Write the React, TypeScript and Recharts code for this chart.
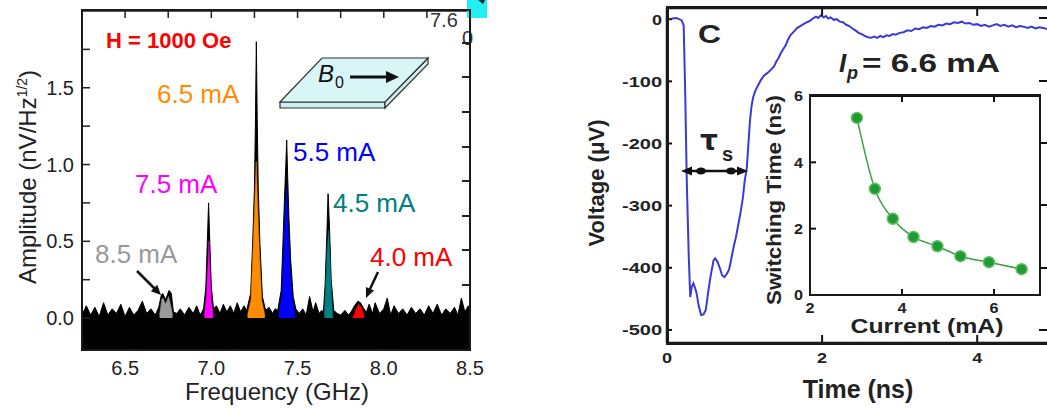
import React from 'react';
import { ComposedChart, Area, Line, XAxis, YAxis } from 'recharts';

const FONT = '"Liberation Sans", Arial, Helvetica, sans-serif';

// ---------------- Panel 1: spectrum ----------------
const freqLabelTicks = [6.5, 7.0, 7.5, 8.0, 8.5];
const freqMinorTicks = [6.25, 6.5, 6.75, 7.0, 7.25, 7.5, 7.75, 8.0, 8.25, 8.5];
const ampTicks = [0, 0.25, 0.5, 0.75, 1.0, 1.25, 1.5, 1.75];
const ampLabelTicks = [0, 0.5, 1.0, 1.5];
const sideScaleTicks = [0, 1, 2, 3, 4, 5, 6, 7];

const blackFreq = [
  6.25, 6.275, 6.3, 6.325, 6.35, 6.375, 6.4, 6.425, 6.45, 6.475, 6.5, 6.525, 6.55, 6.575, 6.6, 6.625,
  6.65, 6.675, 6.695, 6.71, 6.718, 6.735, 6.755, 6.768, 6.78, 6.8, 6.82, 6.845, 6.87, 6.895, 6.915,
  6.935, 6.955, 6.968, 6.977, 6.984, 6.991, 7.0, 7.013, 7.03, 7.05, 7.07, 7.09, 7.11, 7.13, 7.15,
  7.17, 7.19, 7.205, 7.228, 7.24, 7.25, 7.256, 7.261, 7.266, 7.272, 7.282, 7.296, 7.315, 7.335,
  7.355, 7.37, 7.385, 7.405, 7.415, 7.425, 7.432, 7.437, 7.442, 7.45, 7.46, 7.475, 7.49, 7.51,
  7.53, 7.55, 7.57, 7.59, 7.605, 7.625, 7.64, 7.65, 7.66, 7.67, 7.677, 7.685, 7.695, 7.71, 7.73,
  7.75, 7.775, 7.795, 7.81, 7.83, 7.85, 7.865, 7.885, 7.9, 7.915, 7.935, 7.95, 7.975, 8.0, 8.02,
  8.04, 8.06, 8.085, 8.11, 8.135, 8.16, 8.185, 8.21, 8.235, 8.26, 8.285, 8.31, 8.335, 8.36, 8.385,
  8.41, 8.43, 8.45, 8.47, 8.49, 8.5,
];
const blackAmp = [
  0.02, 0.08, 0.02, 0.07, 0.01, 0.1, 0.02, 0.06, 0.03, 0.09, 0.01, 0.07, 0.02, 0.05, 0.11, 0.03,
  0.06, 0.02, 0.07, 0.15, 0.16, 0.12, 0.18, 0.16, 0.04, 0.03, 0.06, 0.02, 0.07, 0.03, 0.08,
  0.02, 0.06, 0.2, 0.5, 0.75, 0.5, 0.2, 0.06, 0.08, 0.03, 0.09, 0.04, 0.08, 0.03, 0.1,
  0.04, 0.08, 0.05, 0.16, 0.5, 0.85, 1.3, 1.8, 1.3, 0.85, 0.48, 0.14, 0.05, 0.07,
  0.03, 0.06, 0.05, 0.18, 0.48, 0.8, 1.0, 1.16, 0.95, 0.65, 0.38, 0.14, 0.06, 0.03,
  0.06, 0.02, 0.14, 0.04, 0.1, 0.03, 0.05, 0.04, 0.22, 0.55, 0.81, 0.6, 0.25, 0.05, 0.03,
  0.02, 0.05, 0.02, 0.04, 0.08, 0.11, 0.1, 0.06, 0.04, 0.09, 0.03, 0.1, 0.03, 0.06, 0.13,
  0.02, 0.08, 0.03, 0.06, 0.02, 0.07, 0.03, 0.06, 0.02, 0.08, 0.03, 0.09, 0.02, 0.06, 0.03,
  0.07, 0.02, 0.13, 0.04, 0.08, 0.05,
];
const greyFreq = [6.7, 6.712, 6.72, 6.735, 6.752, 6.765, 6.775];
const greyAmp = [0.02, 0.12, 0.13, 0.09, 0.14, 0.08, 0.02];
const magentaFreq = [6.96, 6.972, 6.98, 6.986, 6.992, 7.0, 7.01];
const magentaAmp = [0.02, 0.15, 0.35, 0.5, 0.3, 0.12, 0.02];
const orangeFreq = [7.21, 7.23, 7.242, 7.252, 7.26, 7.268, 7.278, 7.292, 7.31];
const orangeAmp = [0.02, 0.12, 0.45, 0.75, 1.02, 0.75, 0.45, 0.12, 0.02];
const blueFreq = [7.39, 7.41, 7.42, 7.43, 7.437, 7.445, 7.455, 7.47, 7.485];
const blueAmp = [0.02, 0.15, 0.45, 0.72, 0.85, 0.6, 0.35, 0.12, 0.03];
const tealFreq = [7.655, 7.663, 7.672, 7.68, 7.688, 7.697, 7.705];
const tealAmp = [0.02, 0.2, 0.45, 0.57, 0.4, 0.15, -0.01];
const redFreq = [7.82, 7.84, 7.855, 7.87, 7.885];
const redAmp = [0.0, 0.06, 0.09, 0.07, 0.02];

const spectrumSeries = [
  { key: 'black', f: blackFreq, a: blackAmp, color: '#000000' },
  { key: 'grey', f: greyFreq, a: greyAmp, color: '#9a9a9a' },
  { key: 'magenta', f: magentaFreq, a: magentaAmp, color: '#ff00ff' },
  { key: 'orange', f: orangeFreq, a: orangeAmp, color: '#ff8c00' },
  { key: 'blue', f: blueFreq, a: blueAmp, color: '#0000ff' },
  { key: 'teal', f: tealFreq, a: tealAmp, color: '#008080' },
  { key: 'red', f: redFreq, a: redAmp, color: '#ff0000' },
];
const allFreq = Array.from(new Set(spectrumSeries.flatMap((s) => s.f))).sort((a, b) => a - b);
const spectrumData = allFreq.map((f) => {
  const row: Record<string, number | null> = { f };
  spectrumSeries.forEach((s) => {
    const i = s.f.indexOf(f);
    row[s.key] = i >= 0 ? s.a[i] : null;
  });
  return row;
});

const AMP_MIN = -0.208;
const AMP_MAX = 2.0;
const SIDE_MIN = -1.88;
const SIDE_MAX = 7.95;

// ---------------- Panel 2: pulse ----------------
const timeTicks = [0, 2, 4];
const timeTopTicks = [2, 4];
const voltTicks = [0, -100, -200, -300, -400, -500];
const timeNs = [
  0.06, 0.12, 0.19, 0.215, 0.235, 0.255, 0.28, 0.3, 0.32, 0.34, 0.36, 0.38, 0.41, 0.44, 0.47, 0.5,
  0.53, 0.56, 0.6, 0.62, 0.65, 0.68, 0.71, 0.74, 0.77, 0.8, 0.83, 0.86, 0.89, 0.92, 0.95, 0.98,
  1.0, 1.03, 1.05, 1.07, 1.09, 1.11, 1.14, 1.18, 1.21, 1.25, 1.28, 1.31, 1.35, 1.38, 1.41, 1.44,
  1.47, 1.5, 1.53, 1.56, 1.59, 1.62, 1.65, 1.68, 1.72, 1.76, 1.8, 1.84, 1.88, 1.92, 1.95, 1.98,
  2.02, 2.05, 2.08, 2.11, 2.15, 2.19, 2.23, 2.27, 2.31, 2.35, 2.39, 2.43, 2.47, 2.51, 2.55, 2.59,
  2.63, 2.67, 2.71, 2.75, 2.79, 2.83, 2.87, 2.91, 2.95, 3.0, 3.05, 3.1, 3.15, 3.2, 3.25, 3.3,
  3.35, 3.4, 3.45, 3.5, 3.55, 3.6, 3.65, 3.7, 3.75, 3.8, 3.85, 3.9, 3.95, 4.0, 4.05, 4.1, 4.15,
  4.2, 4.25, 4.3, 4.35, 4.4, 4.45, 4.5, 4.55, 4.6, 4.65, 4.7, 4.75, 4.8, 4.85, 4.9,
];
const voltageUv = [
  1, 2, -2, -10, -120, -260, -380, -447, -430, -425, -432, -440, -462, -476, -475, -468,
  -440, -415, -388, -385, -390, -400, -412, -415, -410, -403, -385, -366, -350, -330, -310, -286,
  -262, -238, -200, -163, -140, -126, -115, -105, -98, -91, -88, -85, -80, -76, -68, -62,
  -54, -48, -42, -33, -26, -22, -18, -14, -11, -8, -5, -3, 1, 4, 2, 6,
  3, 5, 1, 3, -1, 0, -4, -5, -9, -11, -15, -18, -22, -24, -27, -29,
  -30, -28, -30, -27, -29, -26, -27, -24, -25, -22, -21, -18, -19, -15, -16, -13,
  -14, -11, -12, -9, -10, -7, -8, -5, -6, -4, -7, -6, -9, -8, -11, -9, -12,
  -10, -8, -11, -9, -12, -10, -13, -11, -12, -14, -12, -15, -13, -14, -16,
];
const pulseData = timeNs.map((t, i) => ({ t, v: voltageUv[i] }));
const VOLT_MIN = -521;
const VOLT_MAX = 18;

// ---------------- Inset: switching time ----------------
const currentTicks = [2, 4, 6];
const currentTopTicks = [4, 6];
const switchTicks = [0, 2, 4, 6];
const currentMa = [3.02, 3.41, 3.8, 4.25, 4.77, 5.27, 5.89, 6.6];
const switchNs = [5.34, 3.2, 2.3, 1.75, 1.47, 1.17, 0.99, 0.78];
const switchData = currentMa.map((c, i) => ({ c, s: switchNs[i] }));

// ---------------- tick helper ----------------
function makeTick(
  side: string,
  len: number,
  color: string,
  sw: number,
  label?: (v: number) => string | null,
  gap = 8,
  size = 20,
  bold = false,
  perChar = 0
) {
  return (p: any) => {
    const x = Number(p.x);
    const y = Number(p.y);
    const v = p.payload ? p.payload.value : 0;
    const lbl = label ? label(v) : null;
    let x2 = x;
    let y2 = y;
    if (side === 'left') x2 = x + len;
    if (side === 'top') y2 = y + len;
    if (side === 'bottom') y2 = y - len;
    const stretch: any = perChar && lbl ? { textLength: lbl.length * perChar, lengthAdjust: 'spacingAndGlyphs' } : {};
    return (
      <g>
        {len > 0 && <path d={`M${x},${y}L${x2},${y2}`} stroke={color} strokeWidth={sw} />}
        {lbl && (
          <text
            x={side === 'left' ? x - gap : x}
            y={side === 'left' ? y + size * 0.36 : y + gap}
            textAnchor={side === 'left' ? 'end' : 'middle'}
            fontFamily={FONT}
            fontSize={size}
            fontWeight={bold ? 'bold' : 'normal'}
            fill="#222"
            {...stretch}
          >
            {lbl}
          </text>
        )}
      </g>
    );
  };
}

function SpectrumPanel() {
  return (
    <ComposedChart width={490} height={410} data={spectrumData} margin={{ top: 10, right: 20, bottom: 0, left: 0 }}>
      <XAxis
        xAxisId="b"
        dataKey="f"
        type="number"
        domain={[6.25, 8.5]}
        ticks={freqLabelTicks}
        interval={0}
        height={60}
        tickSize={0}
        tickMargin={0}
        stroke="#222"
        strokeWidth={1.5}
        tick={makeTick('bottom', 0, '#222', 1.5, (v) => v.toFixed(1), 25, 20)}
      />
      <XAxis
        xAxisId="t"
        dataKey="f"
        orientation="top"
        type="number"
        domain={[6.25, 8.5]}
        ticks={freqMinorTicks}
        interval={0}
        height={1}
        tickSize={0}
        tickMargin={0}
        stroke="#222"
        strokeWidth={1.5}
        tick={makeTick('top', 7, '#222', 1.5)}
      />
      <YAxis
        yAxisId="l"
        type="number"
        domain={[AMP_MIN, AMP_MAX]}
        ticks={ampTicks}
        interval={0}
        width={82}
        tickSize={0}
        tickMargin={0}
        stroke="#222"
        strokeWidth={1.5}
        tick={makeTick('left', 8, '#222', 1.5, (v) => (ampLabelTicks.includes(v) ? v.toFixed(1) : null), 8, 20)}
      />
      {spectrumSeries.map((s, i) => (
        <Area
          key={s.key}
          xAxisId="b"
          yAxisId="l"
          dataKey={s.key}
          type="linear"
          connectNulls
          baseValue={i === 0 ? AMP_MIN : 0}
          fill={s.color}
          fillOpacity={1}
          stroke={s.color}
          strokeWidth={i === 0 ? 1 : 0.5}
          dot={false}
          activeDot={false}
          isAnimationActive={false}
        />
      ))}
    </ComposedChart>
  );
}

function PulsePanel() {
  return (
    <ComposedChart width={467} height={410} data={pulseData} margin={{ top: 7, right: 0, bottom: 0, left: 0 }}>
      <XAxis
        xAxisId="b"
        dataKey="t"
        type="number"
        domain={[0, 4.9]}
        ticks={timeTicks}
        interval={0}
        height={67}
        tickSize={0}
        tickMargin={0}
        stroke="#111"
        strokeWidth={2.5}
        tick={makeTick('bottom', 8, '#111', 2, (v) => String(v), 20, 15, true, 10)}
      />
      <XAxis
        xAxisId="t"
        dataKey="t"
        orientation="top"
        type="number"
        domain={[0, 4.9]}
        ticks={timeTopTicks}
        interval={0}
        height={1}
        tickSize={0}
        tickMargin={0}
        stroke="#111"
        strokeWidth={2.5}
        tick={makeTick('top', 8, '#111', 2)}
      />
      <YAxis
        yAxisId="l"
        type="number"
        domain={[VOLT_MIN, VOLT_MAX]}
        ticks={voltTicks}
        interval={0}
        width={87}
        tickSize={0}
        tickMargin={0}
        stroke="#111"
        strokeWidth={2.5}
        tick={makeTick('left', 5, '#111', 2, (v) => String(v), 5, 15, true, 10)}
      />
      <Line
        xAxisId="b"
        yAxisId="l"
        dataKey="v"
        type="linear"
        stroke="#3a3ad8"
        strokeWidth={2}
        dot={false}
        activeDot={false}
        isAnimationActive={false}
      />
    </ComposedChart>
  );
}

function InsetPanel() {
  return (
    <ComposedChart width={307} height={260} data={switchData} margin={{ top: 15, right: 7, bottom: 0, left: 0 }}>
      <XAxis
        xAxisId="b"
        dataKey="c"
        type="number"
        domain={[2, 7]}
        ticks={currentTicks}
        interval={0}
        height={45}
        tickSize={0}
        tickMargin={0}
        stroke="#111"
        strokeWidth={2}
        tick={makeTick('bottom', 6, '#111', 2, (v) => String(v), 18, 15, true, 9)}
      />
      <XAxis
        xAxisId="t"
        dataKey="c"
        orientation="top"
        type="number"
        domain={[2, 7]}
        ticks={currentTopTicks}
        interval={0}
        height={1}
        tickSize={0}
        tickMargin={0}
        stroke="#111"
        strokeWidth={2}
        tick={makeTick('top', 6, '#111', 2)}
      />
      <YAxis
        yAxisId="l"
        type="number"
        domain={[0, 6]}
        ticks={switchTicks}
        interval={0}
        width={70}
        tickSize={0}
        tickMargin={0}
        stroke="#111"
        strokeWidth={2}
        tick={makeTick('left', 6, '#111', 2, (v) => String(v), 7, 15, true, 9)}
      />
      <Line
        xAxisId="b"
        yAxisId="l"
        dataKey="s"
        type="monotone"
        stroke="#3f9f45"
        strokeWidth={1.5}
        dot={{ r: 5.5, fill: '#1f9a35', stroke: '#62c066', strokeWidth: 1.5 }}
        activeDot={false}
        isAnimationActive={false}
      />
    </ComposedChart>
  );
}

// plot-area boxes (set by chart margins/axis sizes above), drawn as HTML borders
const boxes = [
  { x: 82, y: 10, w: 388, h: 340, sw: 2, openRight: false },
  { x: 667, y: 7, w: 380, h: 336, sw: 3, openRight: true },
  { x: 810, y: 95, w: 230, h: 200, sw: 2, openRight: false },
];

function Frames() {
  const sideY = (v: number) => 350 - ((v - SIDE_MIN) / (SIDE_MAX - SIDE_MIN)) * 340;
  const voltY = (v: number) => 7 + ((VOLT_MAX - v) / (VOLT_MAX - VOLT_MIN)) * 336;
  return (
    <>
      {boxes.map((b, i) => (
        <div
          key={'box' + i}
          style={{
            position: 'absolute',
            left: b.x - b.sw / 2,
            top: b.y - b.sw / 2,
            width: b.w + (b.openRight ? b.sw / 2 : b.sw),
            height: b.h + b.sw,
            boxSizing: 'border-box',
            borderStyle: 'solid',
            borderColor: '#1a1a1a',
            borderWidth: `${b.sw}px ${b.openRight ? 0 : b.sw}px ${b.sw}px ${b.sw}px`,
            pointerEvents: 'none',
          }}
        />
      ))}
      {sideScaleTicks.map((v) => (
        <div
          key={'st' + v}
          style={{ position: 'absolute', left: 462, top: sideY(v) - 1, width: 8, height: 2, background: '#222' }}
        />
      ))}
      {voltTicks.map((v) => (
        <div
          key={'vt' + v}
          style={{ position: 'absolute', left: 1039, top: voltY(v) - 1, width: 8, height: 2, background: '#111' }}
        />
      ))}
    </>
  );
}

function Overlay() {
  const t = { fontFamily: FONT };
  return (
    <svg width={1047} height={410} style={{ position: 'absolute', left: 0, top: 0 }}>
      {/* ---- left panel annotations ---- */}
      <text transform="translate(36,177) rotate(-90)" textAnchor="middle" {...t} fontSize={24} fill="#222">
        Amplitude (nV/Hz
        <tspan dy={-9} fontSize={14}>
          1/2
        </tspan>
        <tspan dy={9}>)</tspan>
      </text>
      <text x={277} y={400} textAnchor="middle" {...t} fontSize={24} fill="#222">
        Frequency (GHz)
      </text>
      <text x={106} y={48} {...t} fontSize={22} fontWeight="bold" fill="#ff0000">
        H = 1000 Oe
      </text>
      <text x={157} y={103} {...t} fontSize={26} fill="#ff8c00">
        6.5 mA
      </text>
      <text x={293} y={161} {...t} fontSize={26} fill="#0000ff">
        5.5 mA
      </text>
      <text x={135} y={193} {...t} fontSize={26} fill="#ff00ff">
        7.5 mA
      </text>
      <text x={333} y={212} {...t} fontSize={26} fill="#008080">
        4.5 mA
      </text>
      <text x={95} y={263} {...t} fontSize={26} fill="#999999">
        8.5 mA
      </text>
      <text x={370} y={266} {...t} fontSize={26} fill="#ff0000">
        4.0 mA
      </text>
      <path d="M137,271L155,289" stroke="#111" strokeWidth={2.5} />
      <polygon points="161,295 150.8,291.2 157.2,284.8" fill="#111" />
      <path d="M378,272L370,289" stroke="#111" strokeWidth={2.5} />
      <polygon points="366,298 374.1,290.6 365.9,287" fill="#111" />
      {/* B0 slab */}
      <polygon points="280,102 385,102 385,108 280,108" fill="#cdeff0" stroke="#333" strokeWidth={1.2} />
      <polygon points="385,102 428,58 428,64 385,108" fill="#cdeff0" stroke="#333" strokeWidth={1.2} />
      <polygon points="322,58 428,58 385,102 280,102" fill="#d9f6f6" stroke="#333" strokeWidth={1.2} />
      <text x={318} y={82} {...t} fontSize={24} fontStyle="italic" fill="#111">
        B
      </text>
      <text x={335} y={88} {...t} fontSize={16} fill="#111">
        0
      </text>
      <path d="M350,77L388,77" stroke="#111" strokeWidth={3} />
      <polygon points="386,71 399,77 386,83" fill="#111" />
      {/* stray inset marks at top right */}
      <text x={430} y={27} {...t} fontSize={20} fill="#333">
        7.6
      </text>
      <text x={462} y={45} {...t} fontSize={20} fill="#333">
        0
      </text>
      <rect x={467} y={0} width={20} height={18} fill="#22f0f0" />
      <polygon points="478,0 485,0 483,4" fill="#222" />

      {/* ---- right panel annotations ---- */}
      <text
        transform="translate(604,183) rotate(-90)"
        textAnchor="middle"
        {...t}
        fontSize={22}
        fontWeight="bold"
        fill="#222"
        textLength={127}
        lengthAdjust="spacingAndGlyphs"
      >
        Voltage (μV)
      </text>
      <text x={858} y={398} textAnchor="middle" {...t} fontSize={25} fontWeight="bold" fill="#222">
        Time (ns)
      </text>
      <text x={698} y={43} {...t} fontSize={26} fontWeight="bold" fill="#222" textLength={23} lengthAdjust="spacingAndGlyphs">
        C
      </text>
      <text x={839} y={72} {...t} fontSize={26} fontWeight="bold" fontStyle="italic" fill="#222">
        I
      </text>
      <text x={847} y={79} {...t} fontSize={18} fontWeight="bold" fontStyle="italic" fill="#222">
        p
      </text>
      <text x={862} y={72} {...t} fontSize={26} fontWeight="bold" fill="#222" textLength={138} lengthAdjust="spacingAndGlyphs">
        = 6.6 mA
      </text>
      <text x={700} y={150} fontFamily='"DejaVu Sans", sans-serif' fontSize={28} fontWeight="bold" fill="#222">
        τ
      </text>
      <text x={722} y={161} {...t} fontSize={20} fontWeight="bold" fill="#222">
        s
      </text>
      <path d="M686,171L744,171" stroke="#111" strokeWidth={2.5} />
      <polygon points="681,171 692,166.5 692,175.5" fill="#111" />
      <polygon points="748,171 737,166.5 737,175.5" fill="#111" />
      <ellipse cx={701} cy={171} rx={5} ry={3.5} fill="#111" />
      <ellipse cx={731} cy={171} rx={5} ry={3.5} fill="#111" />
      {/* inset labels */}
      <text
        transform="translate(781,200) rotate(-90)"
        textAnchor="middle"
        {...t}
        fontSize={20}
        fontWeight="bold"
        fill="#222"
        textLength={210}
        lengthAdjust="spacingAndGlyphs"
      >
        Switching Time (ns)
      </text>
      <text
        x={927}
        y={333}
        textAnchor="middle"
        {...t}
        fontSize={21}
        fontWeight="bold"
        fill="#222"
        textLength={153}
        lengthAdjust="spacingAndGlyphs"
      >
        Current (mA)
      </text>
    </svg>
  );
}

export default function App() {
  return (
    <div style={{ position: 'absolute', left: 0, top: 0, width: 1047, height: 410, background: '#ffffff' }}>
      <div style={{ position: 'absolute', left: 0, top: 0 }}>
        <SpectrumPanel />
      </div>
      <div style={{ position: 'absolute', left: 580, top: 0 }}>
        <PulsePanel />
      </div>
      <div style={{ position: 'absolute', left: 740, top: 80 }}>
        <InsetPanel />
      </div>
      <Overlay />
      <Frames />
    </div>
  );
}
